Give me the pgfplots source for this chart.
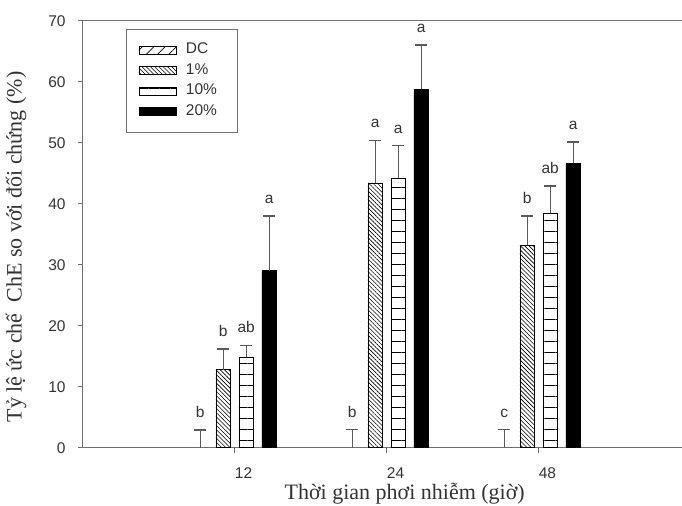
\documentclass[border=0pt]{standalone}
\usepackage{fontspec}
\setmainfont{Liberation Serif}
\setsansfont{Liberation Sans}
\usepackage{pgfplots}
\usepackage{pgfplotstable}
\pgfplotsset{compat=1.18}
\usetikzlibrary{patterns.meta}
\definecolor{axisgray}{HTML}{707070}
\definecolor{errgray}{HTML}{5A5A5A}
\definecolor{txtgray}{HTML}{333333}

% x = position of the exposure time (1=12 h, 2=24 h, 3=48 h), ep = upper error
\pgfplotstableread{
x y ep lab
1 0 2.9 b
2 0 3.0 b
3 0 3.0 c
}\dc
\pgfplotstableread{
x y ep lab
1 12.8 3.4 b
2 43.4 7.0 a
3 33.2 4.8 b
}\one
\pgfplotstableread{
x y ep lab
1 14.8 2.0 ab
2 44.2 5.3 a
3 38.4 4.5 ab
}\ten
\pgfplotstableread{
x y ep lab
1 29.0 9.0 a
2 58.8 7.2 a
3 46.6 3.5 a
}\twenty

\begin{document}
\begin{tikzpicture}
\begin{axis}[
  name=ax,
  scale only axis, width=599.3pt, height=427pt,
  xmin=0, xmax=3.943, ymin=0, ymax=70,
  axis x line*=bottom, axis y line*=left,
  clip=false,
  ybar=8.5pt, bar width=14.5pt,
  xtick={1,2,3}, xticklabels={12,24,48},
  ytick={0,10,...,70},
  tick align=outside, major tick length=5pt,
  axis line style={-, axisgray, line width=1.3pt},
  every tick/.style={axisgray, line width=1.1pt},
  tick label style={font=\sffamily\fontsize{15.5}{18}\selectfont, text=txtgray},
  /pgf/number format/assume math mode=true,
  xticklabel style={anchor=north west, inner sep=0pt, yshift=-15pt},
  yticklabel style={anchor=east, inner sep=0pt, xshift=-12pt},
  every axis x label/.style={at={([xshift=322pt,yshift=-46pt]rel axis cs:0,0)}, anchor=center, inner sep=0pt},
  every axis y label/.style={at={([xshift=-66.7pt]rel axis cs:0,0.47)}, anchor=center, rotate=90, inner sep=0pt},
  label style={font=\fontsize{22}{26}\selectfont, text=txtgray},
  xlabel={Thời gian phơi nhiễm (giờ)},
  ylabel={Tỷ lệ ức chế~ ChE so với đối chứng (\%)},
  legend style={at={([xshift=43.3pt,yshift=-8.3pt]rel axis cs:0,1)}, anchor=north west,
    draw=axisgray, line width=1pt, font=\sffamily\fontsize{15.5}{18}\selectfont,
    text=txtgray, inner xsep=12pt, inner ysep=10.5pt, row sep=0pt,
    nodes={inner xsep=0pt, inner ysep=3pt, text height=11pt, text depth=3.5pt, text width=40pt}},
  legend cell align=left,
  legend image code/.code={\path[draw=none, fill=none, pattern=none] (0pt,0pt) -- (47pt,0pt);
    \draw[#1, draw=black, line width=0.8pt] (0pt,-4pt) rectangle (37pt,4pt);},
  error bars/error bar style={errgray, line width=1.3pt},
  error bars/error mark options={errgray, line width=1.3pt, mark size=6pt, rotate=90},
  nodes near coords,
  point meta=explicit symbolic,
  visualization depends on={\thisrow{ep} \as \ep},
  nodes near coords style={font=\sffamily\fontsize{15.5}{18}\selectfont, text=txtgray,
    anchor=south, inner sep=0pt, text width=, text height=, text depth=, yshift=\ep*6.1pt+12pt},
]
\addplot[draw=none, pattern={Lines[angle=45,distance=8pt,line width=0.7pt]}, pattern color=black,
  error bars/.cd, y dir=plus, y explicit] table[x=x, y=y, y error=ep, meta=lab] {\dc};
\addlegendentry{DC}
\addplot[draw=black, line width=0.8pt, pattern={Lines[angle=-45,distance=3pt,line width=0.6pt]}, pattern color=black,
  error bars/.cd, y dir=plus, y explicit] table[x=x, y=y, y error=ep, meta=lab] {\one};
\addlegendentry{1\%}
\addplot[draw=black, line width=0.8pt, pattern={Lines[angle=0,distance=11pt,line width=0.9pt]}, pattern color=black,
  error bars/.cd, y dir=plus, y explicit] table[x=x, y=y, y error=ep, meta=lab] {\ten};
\addlegendentry{10\%}
\addplot[draw=black, line width=0.8pt, fill=black,
  error bars/.cd, y dir=plus, y explicit] table[x=x, y=y, y error=ep, meta=lab] {\twenty};
\addlegendentry{20\%}
\draw[axisgray, line width=1.3pt] (rel axis cs:0,1) -- (rel axis cs:1,1);
\end{axis}
\pgfresetboundingbox
\path ([xshift=-82.7pt,yshift=-58.3pt]ax.south west) rectangle ([xshift=599.3pt,yshift=20.7pt]ax.north west);
\end{tikzpicture}
\end{document}
